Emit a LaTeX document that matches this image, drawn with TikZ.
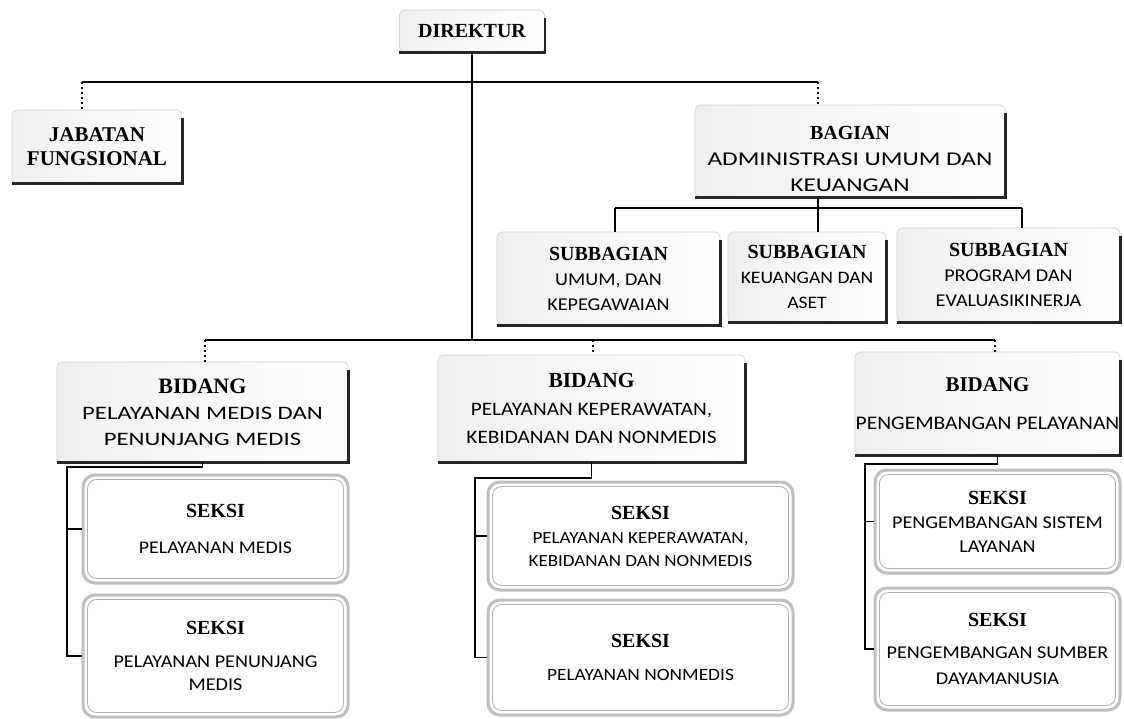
\documentclass[tikz,border=0pt]{standalone}
\usepackage{fontspec}
\setmainfont{Carlito}[FakeStretch=1.12]
\newfontfamily\widefont{Carlito}[FakeStretch=1.3]
\newfontfamily\ttlfont{Liberation Serif}
\newcommand\hd[2][20]{{\ttlfont\bfseries\fontsize{#1}{#1}\selectfont #2}}
\newcommand\fs[2]{\fontsize{#1}{#2}\selectfont}
\begin{document}
\begin{tikzpicture}[x=1pt,y=-1pt,
 box/.style={draw=gray!35, line width=0.6pt, rounded corners=5pt, left color=gray!12, right color=white, align=center, inner sep=0pt, font=\fs{18}{25}},
 sek/.style={draw=gray!50, line width=3pt, rounded corners=12pt, fill=white, align=center, inner sep=0pt, font=\fs{18}{25}},
 shade line/.style={line width=2.6pt, black!85},
 inner frame/.style={draw=gray!60, line width=0.8pt, rounded corners=9pt},
 conn/.style={line width=1.6pt, black},
 dotconn/.style={line width=1.4pt, black, dash pattern=on 2pt off 3pt}]
\fill[white] (0,0) rectangle (1124,718);
\useasboundingbox (0,0) rectangle (1124,718);

% top level
\node[box, minimum width=145pt, minimum height=42pt] (dir) at (472,31) {\hd{DIREKTUR}};
\node[box, minimum width=170pt, minimum height=73pt] (jab) at (97,146.5) {\hd[21]{JABATAN}\\[-1pt]\hd[21]{FUNGSIONAL}};
\node[box, minimum width=310pt, minimum height=92pt, font=\widefont\fs{19.5}{26}] (bag) at (850,151) {\rule{0pt}{30pt}\hd{BAGIAN}\\ADMINISTRASI UMUM DAN\\KEUANGAN};

% subbagian
\node[box, minimum width=223pt, minimum height=93pt] (sb1) at (608.5,278.5) {\hd{SUBBAGIAN}\\UMUM, DAN\\KEPEGAWAIAN};
\node[box, minimum width=158pt, minimum height=90pt, font=\fs{17.5}{25}] (sb2) at (807,277) {\hd{SUBBAGIAN}\\KEUANGAN DAN\\ASET};
\node[box, minimum width=223pt, minimum height=94pt] (sb3) at (1008.5,275) {\hd{SUBBAGIAN}\\PROGRAM DAN\\EVALUASIKINERJA};

% bidang
\node[box, minimum width=291pt, minimum height=100pt, font=\widefont\fs{19}{26}] (bd1) at (202.5,412) {\hd[22]{BIDANG}\\PELAYANAN MEDIS DAN\\PENUNJANG MEDIS};
\node[box, minimum width=307pt, minimum height=107pt, font=\fs{19}{28}] (bd2) at (591.5,408.5) {\hd[21.5]{BIDANG}\\PELAYANAN KEPERAWATAN,\\KEBIDANAN DAN NONMEDIS};
\node[box, minimum width=265pt, minimum height=103pt, font=\fs{19.2}{26}] (bd3) at (987.5,403.5) {\hd[21]{BIDANG}\\[12pt]PENGEMBANGAN PELAYANAN};

% seksi
\node[sek, minimum width=265pt, minimum height=108pt, font=\fs{17.8}{25}] (sek1a) at (215.5,529) {\hd{SEKSI}\\[11pt]PELAYANAN MEDIS};
\node[sek, minimum width=265pt, minimum height=122pt] (sek1b) at (215.5,656) {\hd{SEKSI}\\[8pt]PELAYANAN PENUNJANG\\[-2pt]MEDIS};
\node[sek, minimum width=305pt, minimum height=108pt, font=\fs{17}{25}] (sek2a) at (640.5,536) {\hd{SEKSI}\\[-1pt]PELAYANAN KEPERAWATAN,\\[-2pt]KEBIDANAN DAN NONMEDIS};
\node[sek, minimum width=305pt, minimum height=115pt, font=\fs{17.3}{25}] (sek2b) at (640.5,657.5) {\hd{SEKSI}\\[8pt]PELAYANAN NONMEDIS};
\node[sek, minimum width=245pt, minimum height=103pt] (sek3a) at (997.5,521.5) {\hd{SEKSI}\\[-1pt]PENGEMBANGAN SISTEM\\[-1pt]LAYANAN};
\node[sek, minimum width=245pt, minimum height=122pt] (sek3b) at (997.5,649) {\hd{SEKSI}\\[7pt]PENGEMBANGAN SUMBER\\[1pt]DAYAMANUSIA};

% shadows and inner frames
\foreach \n in {dir,jab,bag,sb1,sb2,sb3,bd1,bd2,bd3}
  \draw[shade line] ([yshift=-8pt]\n.north east) -- (\n.south east) -- (\n.south west);
\foreach \n in {sek1a,sek1b,sek2a,sek2b,sek3a,sek3b}
  \draw[inner frame] ([xshift=6pt,yshift=-6pt]\n.north west) rectangle ([xshift=-6pt,yshift=6pt]\n.south east);

% connectors
\coordinate (t1) at (82,82);
\coordinate (t2) at (818,82);
\coordinate (h2) at (472,340);
\coordinate (b1) at (205,340);
\coordinate (b2) at (593,340);
\coordinate (b3) at (995,340);
\coordinate (s1) at (615,208);
\coordinate (s3) at (1022,208);
\coordinate (c1) at (67,467);
\coordinate (c2) at (475,478);
\coordinate (c3) at (865,464);

\draw[conn] (dir.south) -- (h2);
\draw[conn] (t1) -- (t2);
\draw[dotconn] (t1) -- (t1 |- jab.north);
\draw[dotconn] (t2) -- (t2 |- bag.north);

\draw[conn] (s1) -- (s3);
\draw[conn] (t2 |- bag.south) -- (t2 |- sb2.north);
\draw[conn] (s1) -- (s1 |- sb1.north);
\draw[conn] (s3) -- (s3 |- sb3.north);

\draw[conn] (b1) -- (b3);
\draw[dotconn] (b1) -- (b1 |- bd1.north);
\draw[dotconn] (b2) -- (b2 |- bd2.north);
\draw[dotconn] (b3) -- (b3 |- bd3.north);

\draw[conn] (bd1.south) |- (c1) |- (sek1b.west);
\draw[conn] (c1) |- (sek1a.west);
\draw[conn] (bd2.south) |- (c2) |- (sek2b.west);
\draw[conn] (c2) |- (sek2a.west);
\draw[conn] ([xshift=10pt]bd3.south) |- (c3) |- (sek3b.west);
\draw[conn] (c3) |- (sek3a.west);
\end{tikzpicture}
\end{document}
